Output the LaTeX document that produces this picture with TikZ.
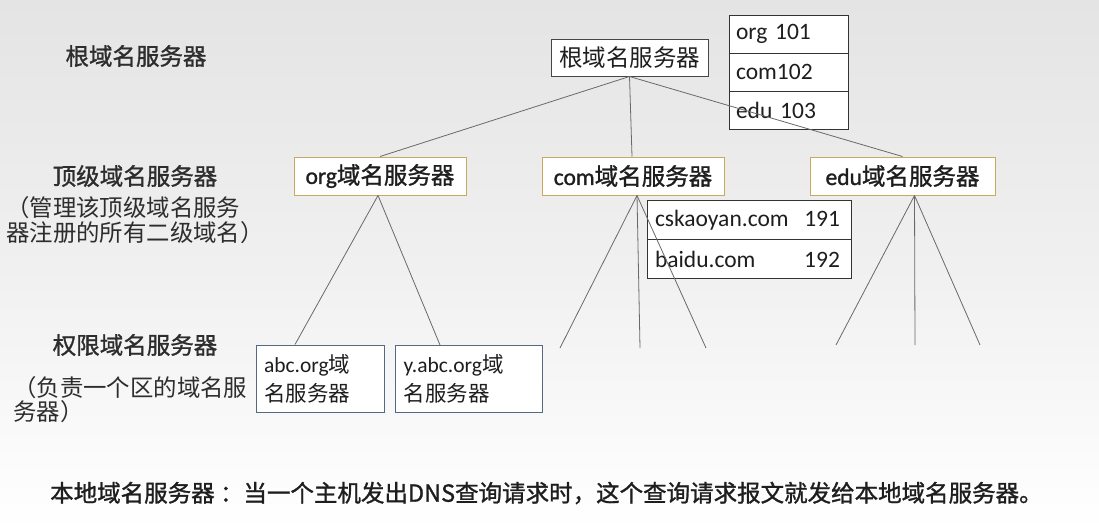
\documentclass[tikz,border=0pt]{standalone}
\usepackage{fontspec}
\setmainfont{Noto Sans CJK SC}
\newfontfamily\semib[FakeBold=1.2]{Noto Sans CJK SC}
\newfontfamily\lat{Carlito}
\newfontfamily\latsb[FakeBold=1.2]{Carlito}
\usetikzlibrary{calc}
\definecolor{boxgray}{RGB}{70,70,70}
\definecolor{gold}{RGB}{200,170,95}
\definecolor{bluegray}{RGB}{85,105,130}
\definecolor{linec}{RGB}{105,105,105}
\definecolor{textc}{RGB}{30,30,30}
\definecolor{labc}{RGB}{45,45,45}
\definecolor{bgtop}{RGB}{228,228,228}
\definecolor{bgmid}{RGB}{240,240,240}
\newcommand\myfs[2]{\fontsize{#1}{#2}\selectfont}
\begin{document}
\begin{tikzpicture}[x=1pt,y=-1pt,
  box/.style={draw=boxgray, fill=white, line width=1pt, inner sep=0pt, text=textc, font=\myfs{23.5}{26}},
  tld/.style={box, draw=gold, font=\myfs{23.5}{26}\semib},
  auth/.style={box, draw=bluegray, align=left, text width=112, minimum width=128, minimum height=67, font=\myfs{21.5}{29}},
  row/.style={box, draw=black!80, minimum width=119, minimum height=38, text width=105, align=left},
  crow/.style={box, draw=black!80, minimum width=204, minimum height=39, text width=188, align=left},
  lab/.style={text=labc, inner sep=0pt, font=\myfs{23.5}{26}\semib},
  sub/.style={text=labc, inner sep=0pt, align=left, anchor=west},
  conn/.style={draw=linec, line width=0.8pt}]
\useasboundingbox (0,0) rectangle (1099,531);
\fill[top color=bgtop, bottom color=white, middle color=bgmid] (0,0) rectangle (1099,531);

% left labels
\node[lab] (l1) at (136,56) {根域名服务器};
\node[lab] (l2) at (135,176) {顶级域名服务器};
\node[sub, font=\myfs{23.4}{25}] (l2s) at (6,220) {（管理该顶级域名服务\\器注册的所有二级域名）};
\node[lab] (l3) at (135,345) {权限域名服务器};
\node[sub, font=\myfs{23.4}{24}] (l3s) at (13,400) {（负责一个区的域名服\\务器）};

% root
\node[box, minimum width=157, minimum height=37] (root) at (629.5,57.5) {根域名服务器};
\node[row] (r1) at (788.5,34) {{\lat org 101}};
\node[row] (r2) at (788.5,72) {{\lat com102}};
\node[row] (r3) at (788.5,110.5) {{\lat edu 103}};

% TLD
\node[tld, minimum width=172, minimum height=38] (org) at (380,176) {{\latsb org}域名服务器};
\node[tld, minimum width=182, minimum height=38] (com) at (633,176) {{\latsb com}域名服务器};
\node[tld, minimum width=185, minimum height=38] (edu) at (902.5,176) {{\latsb edu}域名服务器};

% com table
\node[crow] (c1) at (749,220) {{\lat cskaoyan.com\hfill 191\hspace*{3pt}}};
\node[crow] (c2) at (749,259) {{\lat baidu.com\hfill 192\hspace*{3pt}}};

% authoritative
\node[auth] (abc) at (320,378.5) {{\lat abc.org}域\\名服务器};
\node[auth, minimum width=147, text width=130] (yabc) at (468.5,379) {{\lat y.abc.org}域\\名服务器};

% free ends
\coordinate (ce1) at (560,348);
\coordinate (ce2) at (640,348);
\coordinate (ce3) at (706,348);
\coordinate (ee1) at (836,345);
\coordinate (ee2) at (915,345);
\coordinate (ee3) at (980,345);

% connectors
\draw[conn] (root.south) -- (org.north);
\draw[conn] (root.south) -- ([xshift=-1]com.north);
\draw[conn] (root.south) -- (edu.north);
\draw[conn] ([xshift=-2]org.south) -- ([xshift=-25]abc.north);
\draw[conn] ([xshift=-2]org.south) -- ([xshift=-28.5]yabc.north);
\draw[conn] ([xshift=4]com.south) -- (ce1);
\draw[conn] ([xshift=4]com.south) -- (ce2);
\draw[conn] ([xshift=4]com.south) -- (ce3);
\draw[conn] ([xshift=12]edu.south) -- (ee1);
\draw[conn] ([xshift=12]edu.south) -- (ee2);
\draw[conn] ([xshift=12]edu.south) -- (ee3);

% bottom text
\node[text=textc, inner sep=0pt, anchor=west, font=\myfs{23.5}{26}\semib] (note) at (50,493) {本地域名服务器 ：当一个主机发出DNS查询请求时，这个查询请求报文就发给本地域名服务器。};
\end{tikzpicture}
\end{document}
